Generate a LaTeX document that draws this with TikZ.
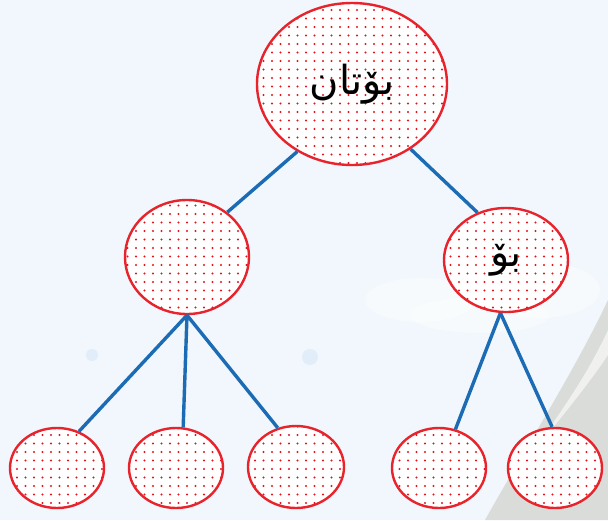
\documentclass[tikz,border=0pt]{standalone}
\usepackage{fontspec}
\newfontfamily\arabicfont[Script=Arabic]{DejaVu Sans}
\TeXXeTstate=1
\usetikzlibrary{shapes.geometric,patterns.meta}
\definecolor{bgblue}{HTML}{F1F7FC}
\definecolor{ringred}{HTML}{E8232B}
\definecolor{dotred}{HTML}{E3141E}
\definecolor{linkblue}{HTML}{1B6CB5}
\definecolor{swoosh}{HTML}{D9DCD8}
\definecolor{spot}{HTML}{E1EDF8}
\begin{document}
\begin{tikzpicture}[x=1pt,y=-1pt,
  bubble/.style={ellipse, draw=ringred, line width=2.4pt, inner sep=0pt,
    preaction={fill=white},
    pattern={Dots[distance=8.5pt,radius=1.05pt]}, pattern color=dotred,
    font=\arabicfont\fontsize{40}{46}\selectfont},
  link/.style={draw=linkblue, line width=3.4pt}]
\useasboundingbox (0,0) rectangle (608,520);
\fill[bgblue] (0,0) rectangle (608,520);
% grey swoosh
\fill[swoosh] (608,300) .. controls (575,370) and (530,440) .. (485,520) -- (608,520) -- cycle;
\fill[white!60!swoosh] (608,330) .. controls (585,380) and (555,420) .. (520,470)
  .. controls (550,430) and (585,390) .. (608,355) -- cycle;
% faint cloud
\begin{scope}[fill=white, opacity=0.4]
\fill (420,300) ellipse (55 and 22);
\fill (540,290) ellipse (60 and 28);
\fill (480,315) ellipse (70 and 18);
\end{scope}
\fill[spot] (92,355) circle (6);
\fill[spot] (310,357) circle (8);
% nodes
\node[bubble, minimum width=190pt, minimum height=162pt] (top) at (352,84) {\raisebox{-2pt}{\beginR بۆتان\endR}};
\node[bubble, minimum width=124pt, minimum height=114pt] (ml) at (187,257) {};
\node[bubble, minimum width=124pt, minimum height=104pt] (mr) at (506,260) {\beginR بۆ\endR};
\node[bubble, minimum width=94pt, minimum height=80pt] (b1) at (57,468) {};
\node[bubble, minimum width=94pt, minimum height=80pt] (b2) at (176,468) {};
\node[bubble, minimum width=96pt, minimum height=82pt] (b3) at (296,467) {};
\node[bubble, minimum width=94pt, minimum height=80pt] (b4) at (439,468) {};
\node[bubble, minimum width=94pt, minimum height=80pt] (b5) at (555,468) {};
% links
\draw[link] (top.-129) -- (ml.48);
\draw[link] (top.-48) -- (mr.121);
\draw[link] (ml.south) -- (b1.59);
\draw[link] (ml.south) -- (b2.80);
\draw[link] (ml.south) -- (b3.115);
\draw[link] (mr.264) -- (b4.67);
\draw[link] (mr.264) -- (b5.94);
\end{tikzpicture}
\end{document}
